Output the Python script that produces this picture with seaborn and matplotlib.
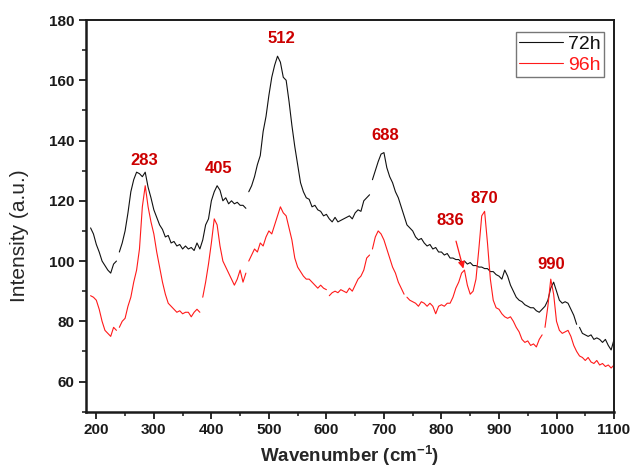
import numpy as np
import pandas as pd
import matplotlib
matplotlib.use("Agg")
import matplotlib.pyplot as plt
import seaborn as sns
from matplotlib.lines import Line2D

# ---- data ----
wavenumber = np.arange(190, 1101, 5)

intensity_72h = [
    111, 109, 105.5, 103, 100, 98.5, 97, 96, 99, 100,          # 190-235
    103, 106, 110, 116, 123, 127, 129.5, 129, 128, 129.5,      # 240-285
    124.5, 121, 117, 114.5, 112, 110.5, 108, 108.5, 106, 106.5, # 290-335
    105, 105.5, 104, 105, 104, 104.5, 103.5, 106, 104, 107,    # 340-385
    112, 114, 120, 123, 125, 123.5, 120, 121, 119, 120,        # 390-435
    119, 119.5, 118.5, 118.5, 117.5,                           # 440-460
    123, 125, 128, 132, 135, 143, 148, 155, 161, 165,          # 465-510
    168, 166, 161, 160, 153, 145, 138, 132, 126, 123,          # 515-560
    121, 120.5, 118, 118.5, 117, 116.5, 115, 115.5, 114, 113,  # 565-610
    114.5, 113, 113.5, 114, 114.5, 115, 114, 116, 117, 116.5,  # 615-660
    120, 121, 122,                                             # 665-675
    127, 130, 133, 135.5, 136, 131, 128, 126, 123, 121,        # 680-725
    118, 115, 112, 111, 110, 108, 107, 107.5, 106, 105,        # 730-775
    105.5, 104, 104.5, 103, 103, 102, 102.5, 101, 101, 100.5,  # 780-825
    100.5, 99.5, 100, 99, 99.5, 98.5, 98.5, 98, 98, 97.5,      # 830-875
    97.5, 96.5, 96.5, 95.5, 95, 94, 97, 95, 92, 90,            # 880-925
    88, 87, 86.5, 85.5, 85, 84.5, 84.5, 83.5, 83, 84,          # 930-975
    85, 87, 91, 93, 90, 87, 86, 86.5, 86, 84,                  # 980-1025
    82, 79,                                                    # 1030-1035
    78, 76, 75.5, 75, 75.5, 74, 74.5, 74, 73, 74,              # 1040-1085
    72, 70.5, 74,                                              # 1090-1100
]

intensity_96h = [
    88.5, 88, 87, 84, 80, 77, 76, 75, 78, 77,                  # 190-235
    78, 80, 81, 85, 88, 93, 97, 104, 118, 125,                 # 240-285
    118, 113, 109, 103, 98, 93, 89, 86, 85, 84,                # 290-335
    83, 83.5, 82.5, 83, 83, 81.5, 83, 84, 83,                  # 340-380
    88, 93, 99, 106, 114, 112, 105, 100, 98, 96,               # 385-430
    94, 92, 94, 97, 93, 96,                                    # 435-460
    100, 102, 104, 103, 106, 105, 108, 110, 109, 112,          # 465-510
    115, 118, 116, 115, 111, 107, 101, 98, 96.5, 95,           # 515-560
    94, 94, 93, 92, 91, 92, 91, 90.5,                          # 565-600
    88.5, 89.5, 90, 89.5, 90.5, 90, 89.5, 91, 90, 92,          # 605-650
    94, 95, 97, 101, 102,                                      # 655-675
    104, 108, 110, 109, 107, 104, 101, 98, 96, 93,             # 680-725
    91, 89,                                                    # 730-735
    88, 87, 86.5, 86, 85, 86.5, 86, 85, 86, 85,                # 740-785
    82.5, 85, 85.5, 85, 86, 86, 88, 91, 93, 96,                # 790-835
    97, 92, 89, 90, 94, 104, 115, 116.5, 106, 94,              # 840-885
    87, 84.5, 84, 82.5, 81.5, 81, 81.5, 80, 78, 76.5,          # 890-935
    74, 73, 73.5, 72, 72.5, 71.5, 74, 75.5,                    # 940-975
    78, 85, 94, 89, 80, 77, 76, 76.5, 77, 75,                  # 980-1025
    72, 70, 68.5, 68, 67, 68, 66.5, 66, 67, 65.5,              # 1030-1075
    66, 65, 65.5, 64.5, 65.5,                                  # 1080-1100
]

breaks_72h = [237.5, 462.5, 677.5, 1037.5]
breaks_96h = [237.5, 382.5, 462.5, 602.5, 677.5, 737.5, 977.5]

peak_labels = ["283", "405", "512", "688", "870", "990"]
peak_label_x = [283, 412, 521, 703, 874, 991]
peak_label_y = [133.3, 130.7, 174, 141.7, 120.7, 98.9]

arrow_label = "836"
arrow_text_xy = (816, 113.3)
arrow_tip_xy = (838, 97.5)

# ---- frame ----
frames = []
for name, vals, brks in [("72h", intensity_72h, breaks_72h),
                         ("96h", intensity_96h, breaks_96h)]:
    frames.append(pd.DataFrame({
        "wavenumber": wavenumber,
        "intensity": vals,
        "series": name,
        "segment": np.searchsorted(brks, wavenumber),
    }))
df = pd.concat(frames, ignore_index=True)

sns.set_style("ticks")
plt.rcParams["font.family"] = ["Liberation Sans", "DejaVu Sans"]
plt.rcParams["mathtext.fontset"] = "custom"
plt.rcParams["mathtext.rm"] = "Liberation Sans:bold"
plt.rcParams["mathtext.bf"] = "Liberation Sans:bold"
plt.rcParams["mathtext.it"] = "Liberation Sans:bold"

fig = plt.figure(figsize=(6.34, 4.71), dpi=100)
ax = fig.add_axes([0.1356, 0.1259, 0.8329, 0.8316])

palette = {"72h": "#111111", "96h": "#ff1a1a"}
sns.lineplot(data=df, x="wavenumber", y="intensity", hue="series",
             units="segment", estimator=None, sort=False,
             palette=palette, linewidth=0.8, ax=ax, legend=False)

ax.set_xlim(182, 1100)
ax.set_ylim(50, 180)
ax.set_xticks(np.arange(200, 1101, 100))
ax.set_xticks(np.arange(250, 1100, 100), minor=True)
ax.set_yticks(np.arange(60, 181, 20))
ax.set_yticks(np.arange(50, 180, 20), minor=True)

for lab in ax.get_xticklabels() + ax.get_yticklabels():
    lab.set_fontweight("bold")
ax.tick_params(axis="both", which="major", direction="out", length=5,
               width=1.3, labelsize=11, colors="#1a1a1a", pad=3)
ax.tick_params(axis="both", which="minor", direction="out", length=3,
               width=1.2)
ax.tick_params(top=False, right=False)

for side in ["left", "bottom"]:
    ax.spines[side].set_linewidth(1.8)
for side in ["top", "right"]:
    ax.spines[side].set_linewidth(1.4)
for s in ax.spines.values():
    s.set_color("#1a1a1a")

ax.set_xlabel("Wavenumber (cm$^{-1}$)", fontsize=13.5,
              fontweight="bold", labelpad=5)
ax.set_ylabel("Intensity (a.u.)", fontsize=15)
ax.yaxis.set_label_coords(-0.108, 0.45)

label_color = "#cc0000"
for t, x, y in zip(peak_labels, peak_label_x, peak_label_y):
    ax.text(x, y, t, color=label_color, fontsize=12, fontweight="bold",
            ha="center", va="center")
ax.annotate(arrow_label, xy=arrow_tip_xy, xytext=arrow_text_xy,
            color=label_color, fontsize=12, fontweight="bold",
            ha="center", va="center",
            arrowprops=dict(arrowstyle="-|>", color="#ff1a1a", lw=0.9,
                            shrinkA=7, shrinkB=0, mutation_scale=10))

handles = [Line2D([], [], color=palette["72h"], lw=0.8),
           Line2D([], [], color=palette["96h"], lw=0.8)]
leg = ax.legend(handles, ["72h", "96h"], loc="upper right",
                bbox_to_anchor=(0.981, 0.969), fontsize=14, frameon=True,
                fancybox=False, handlelength=2.25, handletextpad=0.3,
                borderpad=0.15, labelspacing=0.17, borderaxespad=0)
leg.get_frame().set_edgecolor("#555555")
leg.get_frame().set_linewidth(1.0)
for txt, c in zip(leg.get_texts(), ["#111111", "#ff1a1a"]):
    txt.set_color(c)

fig.savefig("out.png", dpi=100)
